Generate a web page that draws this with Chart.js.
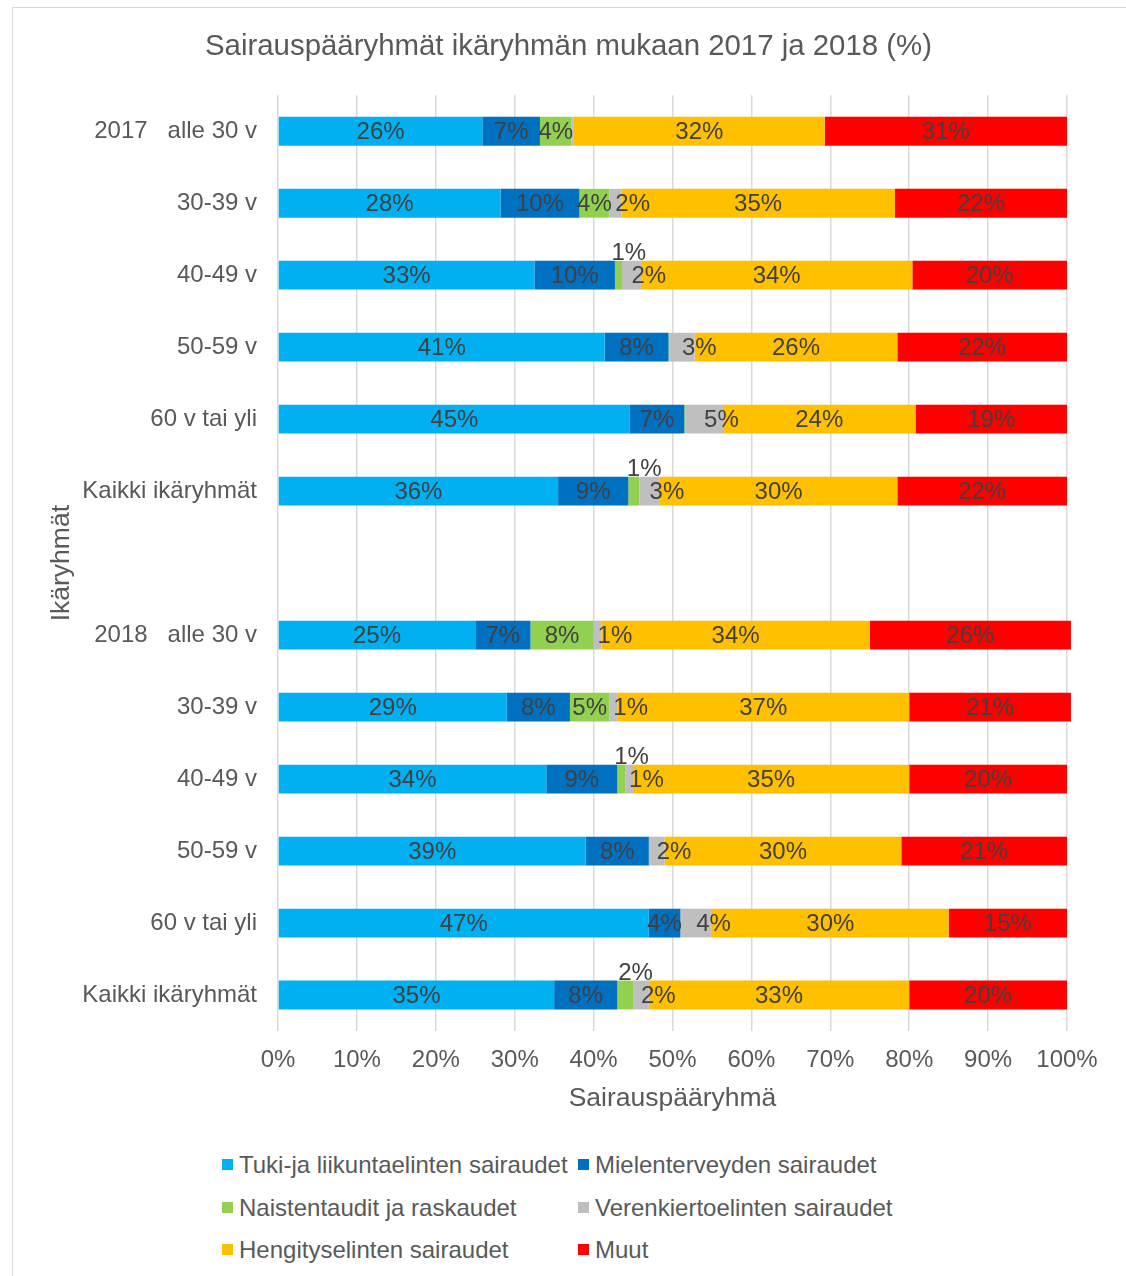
<!DOCTYPE html>
<html><head><meta charset="utf-8">
<script src="https://cdn.jsdelivr.net/npm/chart.js@4"></script>
<style>
html,body{margin:0;padding:0;background:#fff;overflow:hidden;width:1126px;height:1276px}
#frame{position:absolute;left:12px;top:7px;width:1200px;height:1400px;border:1px solid #d9d9d9;box-sizing:border-box}
#wrap{position:absolute;left:0;top:0;width:1126px;height:1140px}
#legend{position:absolute;left:0;top:1140px;width:1126px;height:136px;font-family:"Liberation Sans",Arial,sans-serif;font-size:24px;color:#595959}
.li{position:absolute;white-space:nowrap;line-height:28px;height:28px}
.sw{display:inline-block;width:11px;height:11px;margin-right:6px;vertical-align:middle;position:relative;top:-2px}
</style></head>
<body>
<div id="frame"></div>
<div id="wrap"><canvas id="c" width="1126" height="1140"></canvas></div>
<div id="legend"></div>
<script>
const categories = ["2017   alle 30 v","30-39 v","40-49 v","50-59 v","60 v tai yli","Kaikki ikäryhmät","","2018   alle 30 v","30-39 v","40-49 v","50-59 v","60 v tai yli","Kaikki ikäryhmät"];
const seriesNames = ["Tuki-ja liikuntaelinten sairaudet","Mielenterveyden sairaudet","Naistentaudit ja raskaudet","Verenkiertoelinten sairaudet","Hengityselinten sairaudet","Muut"];
const tuki     = [25.9,28.2,32.5,41.4,44.6,35.5,null,25.0,29.0,34.0,39.0,47.0,35.0];
const mieli    = [7.3,10.0,10.2,8.1,6.9,8.9,null,7.0,8.0,9.0,8.0,4.0,8.0];
const naisten  = [4.0,3.8,0.9,0.1,0.1,1.4,null,8.0,5.0,1.0,0,0,2.0];
const veren    = [0.3,1.5,2.4,3.2,4.8,2.6,null,1.0,1.0,1.0,2.0,4.0,2.0];
const hengitys = [31.8,34.7,34.4,25.7,24.4,30.1,null,34.0,37.0,35.0,30.0,30.0,33.0];
const muut     = [30.7,21.8,19.6,21.5,19.2,21.5,null,25.5,20.5,20.0,21.0,15.0,20.0];
const xTicks = [0,10,20,30,40,50,60,70,80,90,100];

const FONT = '"Liberation Sans", Arial, sans-serif';
const TXT = '#595959';
Chart.defaults.font.family = FONT;

const colors = ['#00B0F0','#0070C0','#92D050','#BFBFBF','#FFC000','#FF0000'];
const seriesData = [tuki, mieli, naisten, veren, hengitys, muut];

const labelPlugin = {
  id: 'segLabels',
  afterDatasetsDraw(chart) {
    const ctx = chart.ctx;
    ctx.save();
    ctx.font = '24px ' + FONT;
    ctx.fillStyle = '#404040';
    const n = chart.data.labels.length;
    for (let i = 0; i < n; i++) {
      const items = [];
      chart.data.datasets.forEach((ds, di) => {
        const v = ds.data[i];
        if (v == null || Math.round(v) < 1) return;
        const el = chart.getDatasetMeta(di).data[i];
        items.push({v, cx: (el.x + el.base) / 2, y: el.y, h: el.height, ds});
      });
      items.forEach((it, k) => {
        const next = items[k + 1];
        const txt = Math.round(it.v) + '%';
        if (next && next.cx - it.cx < 18) {
          ctx.textAlign = 'left';
          ctx.textBaseline = 'alphabetic';
          ctx.fillText(txt, it.cx - 7, it.y - it.h / 2 - 1);
        } else {
          ctx.textBaseline = 'middle';
          ctx.textAlign = it.ds.labelAnchor === 'start' ? 'left' : 'center';
          ctx.fillText(txt, it.cx, it.y + 1);
        }
      });
    }
    ctx.restore();
  }
};

const datasets = seriesNames.map((name, i) => ({
  label: name,
  data: seriesData[i],
  backgroundColor: colors[i],
  borderWidth: 0,
  clip: false,
  labelAnchor: i === 3 ? 'start' : 'center'
}));

const chart = new Chart(document.getElementById('c'), {
  type: 'bar',
  data: { labels: categories, datasets },
  options: {
    indexAxis: 'y',
    responsive: false,
    animation: false,
    devicePixelRatio: 1,
    layout: { padding: { left: 70, right: 59, top: 0, bottom: 19 } },
    datasets: { bar: { categoryPercentage: 0.4, barPercentage: 1 } },
    plugins: {
      legend: { display: false },
      tooltip: { enabled: false },
      title: {
        display: true,
        text: 'Sairauspääryhmät ikäryhmän mukaan 2017 ja 2018 (%)',
        color: TXT,
        font: { size: 29.4, weight: 'normal', family: FONT },
        padding: { top: 29.6, bottom: 30.4 }
      }
    },
    scales: {
      x: {
        stacked: true, min: 0, max: 100,
        afterBuildTicks: s => { s.ticks = xTicks.map(v => ({ value: v })); },
        ticks: { callback: v => v + '%', color: TXT, font: { size: 24 }, padding: 15, maxRotation: 0 },
        grid: { color: '#d9d9d9', lineWidth: 1.5, drawTicks: false },
        border: { display: false },
        title: { display: true, text: 'Sairauspääryhmä', color: TXT, font: { size: 26.5 }, padding: { top: 0, bottom: 6 } },
        afterFit: s => { s.height = 90; }
      },
      y: {
        stacked: true,
        ticks: { autoSkip: false, color: TXT, font: { size: 24 }, padding: 21 },
        grid: { display: false, drawTicks: false },
        border: { display: false },
        title: { display: true, text: 'Ikäryhmät', color: TXT, font: { size: 26.5 }, padding: { top: -24, bottom: 0 } },
        afterFit: s => { s.width = 208; }
      }
    }
  },
  plugins: [labelPlugin]
});

// Legend built from chart datasets (2 columns x 3 rows)
const leg = document.getElementById('legend');
const colX = [222, 578];
const rowY = [11, 54, 96];
chart.data.datasets.forEach((ds, i) => {
  const d = document.createElement('div');
  d.className = 'li';
  d.style.left = colX[i % 2] + 'px';
  d.style.top = rowY[Math.floor(i / 2)] + 'px';
  const sw = document.createElement('span');
  sw.className = 'sw';
  sw.style.background = ds.backgroundColor;
  d.appendChild(sw);
  d.appendChild(document.createTextNode(ds.label));
  leg.appendChild(d);
});
</script>
</body></html>
